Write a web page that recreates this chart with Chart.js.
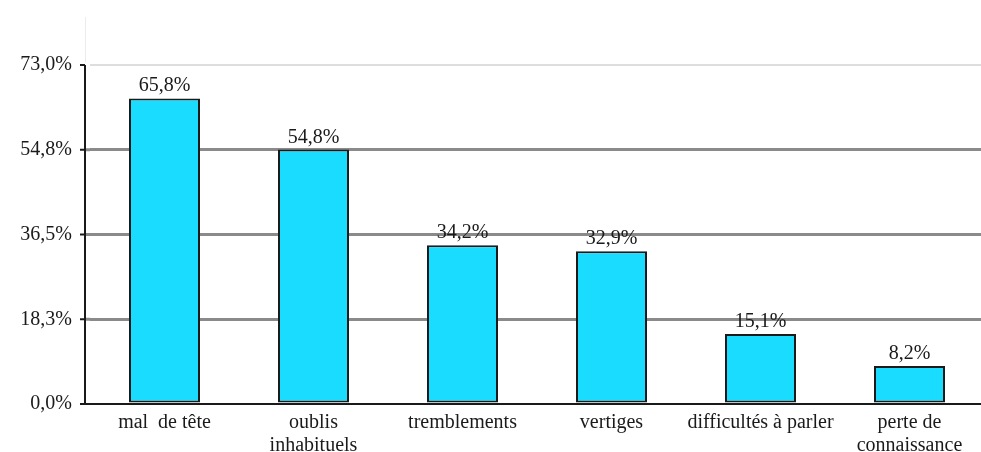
<!DOCTYPE html>
<html>
<head>
<meta charset="utf-8">
<script src="https://cdn.jsdelivr.net/npm/chart.js@4/dist/chart.umd.min.js"></script>
<style>
  html, body { margin: 0; padding: 0; background: #fff; overflow: hidden; }
  #wrap { width: 981px; height: 452px; overflow: hidden; }
  #inner { width: 984px; height: 452px; position: relative; }
</style>
</head>
<body>
<div id="wrap"><div id="inner"><canvas id="symptomes"></canvas></div></div>
<script>
// Symptômes déclarés (% des répondants)
var categories = [
    'mal  de tête',
    ['oublis', 'inhabituels'],
    'tremblements',
    'vertiges',
    'difficultés à parler',
    ['perte de', 'connaissance']
];
var values = [65.8, 54.8, 34.2, 32.9, 15.1, 8.2];
var tickValues = [0, 18.25, 36.5, 54.75, 73];
var tickLabels = ['0,0%', '18,3%', '36,5%', '54,8%', '73,0%'];

var SERIF = "'Liberation Serif', 'Times New Roman', serif";
var AXIS_X = 85;   // where the vertical axis line sits
var INK = '#1a1a1a';

function pct(v) {
    return v.toFixed(1).replace('.', ',') + '%';
}

// value labels above each bar
var barLabels = {
    id: 'barLabels',
    afterDatasetsDraw: function (chart) {
        var ctx = chart.ctx;
        var meta = chart.getDatasetMeta(0);
        ctx.save();
        ctx.font = '20px ' + SERIF;
        ctx.fillStyle = INK;
        ctx.textAlign = 'center';
        ctx.textBaseline = 'alphabetic';
        meta.data.forEach(function (bar, i) {
            ctx.fillText(pct(values[i]), bar.x, bar.y - 7);
        });
        ctx.restore();
    }
};

// axis line + tick marks, drawn a little left of the plot area,
// with grid lines and the base line stretched to meet it
var leftAxis = {
    id: 'leftAxis',
    beforeDatasetsDraw: function (chart) {
        var ctx = chart.ctx;
        var y = chart.scales.y;
        var area = chart.chartArea;
        ctx.save();
        // faint frame line above the plot
        ctx.strokeStyle = '#ececec';
        ctx.lineWidth = 1;
        ctx.beginPath();
        ctx.moveTo(AXIS_X + 0.5, 17);
        ctx.lineTo(AXIS_X + 0.5, area.top - 3);
        ctx.stroke();
        // grid line stubs between axis and plot area
        tickValues.forEach(function (v, i) {
            if (i === 0 || i === tickValues.length - 1) return;
            var py = y.getPixelForValue(v);
            ctx.strokeStyle = '#8a8a8a';
            ctx.lineWidth = 3;
            ctx.beginPath();
            ctx.moveTo(AXIS_X, py);
            ctx.lineTo(area.left, py);
            ctx.stroke();
        });
        // base line stub
        var y0 = y.getPixelForValue(0);
        ctx.strokeStyle = INK;
        ctx.lineWidth = 2;
        ctx.beginPath();
        ctx.moveTo(AXIS_X, y0);
        ctx.lineTo(area.left, y0);
        ctx.stroke();
        // vertical axis
        ctx.beginPath();
        ctx.moveTo(AXIS_X, y.getPixelForValue(73));
        ctx.lineTo(AXIS_X, y0 + 1);
        ctx.stroke();
        // tick marks
        tickValues.forEach(function (v) {
            var py = y.getPixelForValue(v);
            ctx.beginPath();
            ctx.moveTo(AXIS_X - 5, py);
            ctx.lineTo(AXIS_X, py);
            ctx.stroke();
        });
        ctx.restore();
    }
};

new Chart(document.getElementById('symptomes'), {
    type: 'bar',
    data: {
        labels: categories,
        datasets: [{
            data: values,
            backgroundColor: '#1ADCFF',
            borderColor: INK,
            borderWidth: 2,
            borderSkipped: false,
            categoryPercentage: 1,
            barPercentage: 0.4765
        }]
    },
    options: {
        responsive: true,
        maintainAspectRatio: false,
        animation: false,
        layout: { padding: { top: 65, right: 0, left: 0, bottom: 0 } },
        plugins: {
            legend: { display: false },
            tooltip: { enabled: false }
        },
        scales: {
            x: {
                grid: { display: false, drawTicks: false },
                border: { color: INK, width: 2 },
                ticks: {
                    color: INK,
                    font: { family: SERIF, size: 20, lineHeight: 1.17 },
                    padding: 7,
                    maxRotation: 0,
                    autoSkip: false
                },
                afterFit: function (scale) { scale.height = 48; }
            },
            y: {
                min: 0,
                max: 73,
                afterBuildTicks: function (scale) {
                    scale.ticks = tickValues.map(function (v) { return { value: v }; });
                },
                border: { display: false },
                grid: {
                    drawTicks: false,
                    color: function (c) {
                        if (c.index === 0) return 'rgba(0,0,0,0)';
                        if (c.index === tickValues.length - 1) return '#dedede';
                        return '#8a8a8a';
                    },
                    lineWidth: function (c) {
                        return c.index === tickValues.length - 1 ? 2 : 3;
                    }
                },
                ticks: {
                    color: INK,
                    font: { family: SERIF, size: 20 },
                    padding: 18,
                    callback: function (v, i) { return tickLabels[i]; }
                },
                afterFit: function (scale) { scale.width = 90; }
            }
        }
    },
    plugins: [barLabels, leftAxis]
});
</script>
</body>
</html>
